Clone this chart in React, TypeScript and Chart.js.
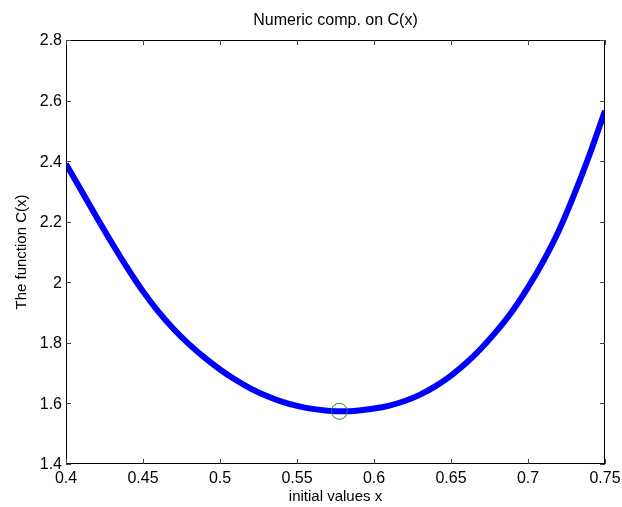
import React, { useEffect, useRef } from "react";
import { Chart, registerables } from "chart.js";

Chart.register(...registerables);

const xValues = [
  0.40, 0.41, 0.42, 0.43, 0.44, 0.45, 0.46, 0.47, 0.48, 0.49,
  0.50, 0.51, 0.52, 0.53, 0.54, 0.55, 0.56, 0.57, 0.58, 0.59,
  0.60, 0.61, 0.62, 0.63, 0.64, 0.65, 0.66, 0.67, 0.68, 0.69,
  0.70, 0.71, 0.72, 0.73, 0.74, 0.75,
];
const cValues = [
  2.391, 2.302, 2.214, 2.128, 2.046, 1.970, 1.903, 1.845, 1.795, 1.751,
  1.712, 1.678, 1.649, 1.625, 1.606, 1.592, 1.582, 1.576, 1.574, 1.577,
  1.583, 1.593, 1.608, 1.629, 1.657, 1.692, 1.734, 1.784, 1.841, 1.906,
  1.983, 2.070, 2.170, 2.290, 2.422, 2.566,
];

// Marked minimum
const minX = [0.5775];
const minC = [1.574];

const xTicks = [0.4, 0.45, 0.5, 0.55, 0.6, 0.65, 0.7, 0.75];
const xTickLabels = ["0.4", "0.45", "0.5", "0.55", "0.6", "0.65", "0.7", "0.75"];
const yTicks = [1.4, 1.6, 1.8, 2.0, 2.2, 2.4, 2.6, 2.8];
const yTickLabels = ["1.4", "1.6", "1.8", "2", "2.2", "2.4", "2.6", "2.8"];

const titleText = "Numeric comp. on C(x)";
const xAxisLabel = "initial values x";
const yAxisLabel = "The function C(x)";

const FONT = '"Liberation Sans", Arial, Helvetica, sans-serif';

const matlabAxes = {
  id: "matlabAxes",
  afterDraw(chart: any) {
    const { ctx, chartArea: a, scales } = chart;
    const xs = scales.x;
    const ys = scales.y;
    ctx.save();
    // frame
    ctx.strokeStyle = "#000";
    ctx.lineWidth = 1;
    ctx.strokeRect(a.left + 0.5, a.top + 0.5, a.right - a.left - 1, a.bottom - a.top - 1);
    // ticks
    ctx.strokeStyle = "#444";
    ctx.beginPath();
    xTicks.forEach((v) => {
      const px = Math.round(xs.getPixelForValue(v)) + 0.5;
      ctx.moveTo(px, a.bottom);
      ctx.lineTo(px, a.bottom - 5);
      ctx.moveTo(px, a.top);
      ctx.lineTo(px, a.top + 5);
    });
    yTicks.forEach((v) => {
      const py = Math.round(ys.getPixelForValue(v)) + 0.5;
      ctx.moveTo(a.left, py);
      ctx.lineTo(a.left + 5, py);
      ctx.moveTo(a.right, py);
      ctx.lineTo(a.right - 5, py);
    });
    ctx.stroke();
    // tick labels
    ctx.fillStyle = "#000";
    ctx.font = `16px ${FONT}`;
    ctx.textAlign = "center";
    ctx.textBaseline = "middle";
    xTicks.forEach((v, i) => {
      ctx.fillText(xTickLabels[i], xs.getPixelForValue(v), a.bottom + 15);
    });
    ctx.textAlign = "right";
    yTicks.forEach((v, i) => {
      ctx.fillText(yTickLabels[i], a.left - 4, ys.getPixelForValue(v) + 1);
    });
    // title & axis labels
    const cx = (a.left + a.right) / 2;
    const cy = (a.top + a.bottom) / 2;
    ctx.textAlign = "center";
    ctx.font = `16px ${FONT}`;
    ctx.fillText(titleText, cx, 21);
    ctx.font = `15px ${FONT}`;
    ctx.fillText(xAxisLabel, cx, a.bottom + 33);
    ctx.save();
    ctx.translate(22, cy);
    ctx.rotate(-Math.PI / 2);
    ctx.fillText(yAxisLabel, 0, 0);
    ctx.restore();
    ctx.restore();
  },
};

export default function App() {
  const ref = useRef<HTMLCanvasElement | null>(null);
  useEffect(() => {
    if (!ref.current) return;
    const chart = new Chart(ref.current, {
      type: "scatter",
      data: {
        datasets: [
          {
            label: "minimum",
            data: minX.map((x, i) => ({ x, y: minC[i] })),
            pointRadius: 8,
            pointHoverRadius: 8,
            pointStyle: "circle",
            borderColor: "#1a8c1a",
            backgroundColor: "rgba(0,0,0,0)",
            borderWidth: 1,
            showLine: false,
            order: 0,
          },
          {
            label: "C(x)",
            data: xValues.map((x, i) => ({ x, y: cValues[i] })),
            showLine: true,
            borderColor: "rgb(0,0,255)",
            backgroundColor: "rgb(0,0,255)",
            borderWidth: 6,
            pointRadius: 0,
            cubicInterpolationMode: "monotone",
            order: 1,
          },
        ],
      },
      options: {
        animation: false,
        responsive: false,
        devicePixelRatio: 1,
        layout: { padding: { left: 66, right: 17, top: 40, bottom: 43 } },
        plugins: {
          legend: { display: false },
          title: { display: false },
          tooltip: { enabled: false },
        },
        events: [],
        scales: {
          x: { type: "linear", min: 0.4, max: 0.75, display: false },
          y: { type: "linear", min: 1.4, max: 2.8, display: false },
        },
      },
      plugins: [matlabAxes],
    });
    return () => chart.destroy();
  }, []);
  return (
    <div style={{ position: "fixed", left: 0, top: 0, width: 622, height: 507, background: "#fff" }}>
      <canvas ref={ref} width={622} height={507} style={{ display: "block" }} />
    </div>
  );
}
